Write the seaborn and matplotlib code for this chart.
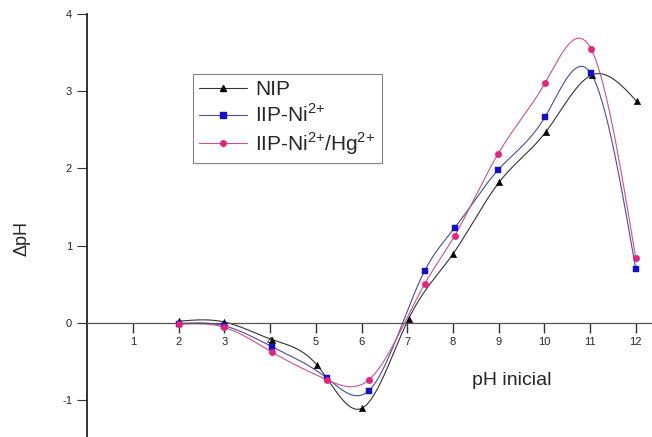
import numpy as np
import pandas as pd
import matplotlib
matplotlib.use("Agg")
import matplotlib.pyplot as plt
import seaborn as sns

# data
ph_nip = [2.0, 3.0, 4.05, 5.03, 6.0, 7.03, 8.0, 9.01, 10.03, 11.04, 12.02]
dph_nip = [0.02, 0.01, -0.22, -0.55, -1.11, 0.05, 0.89, 1.82, 2.47, 3.21, 2.87]

ph_ni = [2.0, 3.0, 4.04, 5.25, 6.16, 7.38, 8.04, 8.99, 10.02, 11.02, 12.0]
dph_ni = [-0.01, -0.04, -0.31, -0.72, -0.88, 0.67, 1.23, 1.98, 2.67, 3.23, 0.70]

ph_hg = [2.0, 3.0, 4.04, 5.25, 6.16, 7.38, 8.04, 8.99, 10.02, 11.02, 12.0]
dph_hg = [-0.02, -0.06, -0.38, -0.74, -0.74, 0.50, 1.13, 2.19, 3.11, 3.55, 0.84]

labels = ["NIP", r"IIP-Ni$^{\mathrm{2{+}}}$",
          r"IIP-Ni$^{\mathrm{2{+}}}$/Hg$^{\mathrm{2{+}}}$"]
colors = ["#000000", "#1010d0", "#e8207f"]
line_colors = ["#333333", "#4a4aa8", "#d0508a"]
markers = ["^", "s", "o"]


def natural_spline(x, y, n=300):
    # natural cubic spline through the points, like Origin's spline connection
    x = np.asarray(x, float)
    y = np.asarray(y, float)
    k = len(x)
    h = np.diff(x)
    A = np.zeros((k, k))
    b = np.zeros(k)
    A[0, 0] = 1
    A[-1, -1] = 1
    for i in range(1, k - 1):
        A[i, i - 1] = h[i - 1]
        A[i, i] = 2 * (h[i - 1] + h[i])
        A[i, i + 1] = h[i]
        b[i] = 6 * ((y[i + 1] - y[i]) / h[i] - (y[i] - y[i - 1]) / h[i - 1])
    M = np.linalg.solve(A, b)
    xs = np.linspace(x[0], x[-1], n)
    idx = np.clip(np.searchsorted(x, xs) - 1, 0, k - 2)
    x0, x1 = x[idx], x[idx + 1]
    hh = x1 - x0
    t0, t1 = x1 - xs, xs - x0
    ys = (M[idx] * t0 ** 3 + M[idx + 1] * t1 ** 3) / (6 * hh) \
        + (y[idx] / hh - M[idx] * hh / 6) * t0 \
        + (y[idx + 1] / hh - M[idx + 1] * hh / 6) * t1
    return xs, ys


sns.set_theme(style="white")
plt.rcParams["font.family"] = ["Liberation Sans", "DejaVu Sans"]
plt.rcParams["mathtext.fontset"] = "custom"
plt.rcParams["mathtext.rm"] = "Liberation Sans"
plt.rcParams["axes.unicode_minus"] = False

fig = plt.figure(figsize=(6.52, 4.37), dpi=100)
ax = fig.add_axes([87.3 / 652, 0.0, 1 - 87.3 / 652, (437 - 14) / 437])

series = [(ph_nip, dph_nip), (ph_ni, dph_ni), (ph_hg, dph_hg)]
handles = []
for (xv, yv), lab, c, lc, m in zip(series, labels, colors, line_colors, markers):
    xs, ys = natural_spline(xv, yv)
    curve = pd.DataFrame({"x": xs, "y": ys})
    sns.lineplot(data=curve, x="x", y="y", sort=False, estimator=None,
                 color=lc, linewidth=0.8, ax=ax)
    pts = pd.DataFrame({"x": xv, "y": yv})
    sns.scatterplot(data=pts, x="x", y="y", marker=m, color=c, s=22,
                    edgecolor=c, linewidth=0.3, ax=ax, zorder=3)
    handles.append(plt.Line2D([], [], color=lc, linewidth=0.8, marker=m,
                              markersize=4, markerfacecolor=c,
                              markeredgecolor=c, label=lab))

ax.set_xlim(0, (652 - 87.3) / 45.7)
ax.set_ylim(-1.48, 4.0)

ax.spines["top"].set_visible(False)
ax.spines["right"].set_visible(False)
ax.spines["bottom"].set_position(("data", 0))
ax.spines["bottom"].set_color("#555555")
ax.spines["bottom"].set_linewidth(0.9)
ax.spines["left"].set_color("#111111")
ax.spines["left"].set_linewidth(1.2)

ax.set_xticks(range(1, 13))
ax.set_yticks(range(-1, 5))
ax.tick_params(axis="x", direction="out", length=7, width=1.0,
               color="#333333", labelsize=8, pad=3, bottom=True)
ax.tick_params(axis="y", direction="out", length=7, width=0.8,
               color="#333333", labelsize=8, pad=4, left=True)

ax.set_ylabel("ΔpH", fontsize=13)
ax.yaxis.set_label_coords(-0.101, 0.469)
ax.set_xlabel("pH inicial", fontsize=14)
ax.xaxis.set_label_coords(0.752, 0.154)

leg = ax.legend(handles=handles, loc="upper left",
                bbox_to_anchor=(0.187, 0.858), borderaxespad=0,
                fontsize=15, frameon=True, fancybox=False,
                handlelength=2.3, handletextpad=0.4, labelspacing=0.2,
                borderpad=0.3)
leg.get_frame().set_edgecolor("#666666")
leg.get_frame().set_linewidth(0.8)

fig.savefig("out.png", dpi=100)
